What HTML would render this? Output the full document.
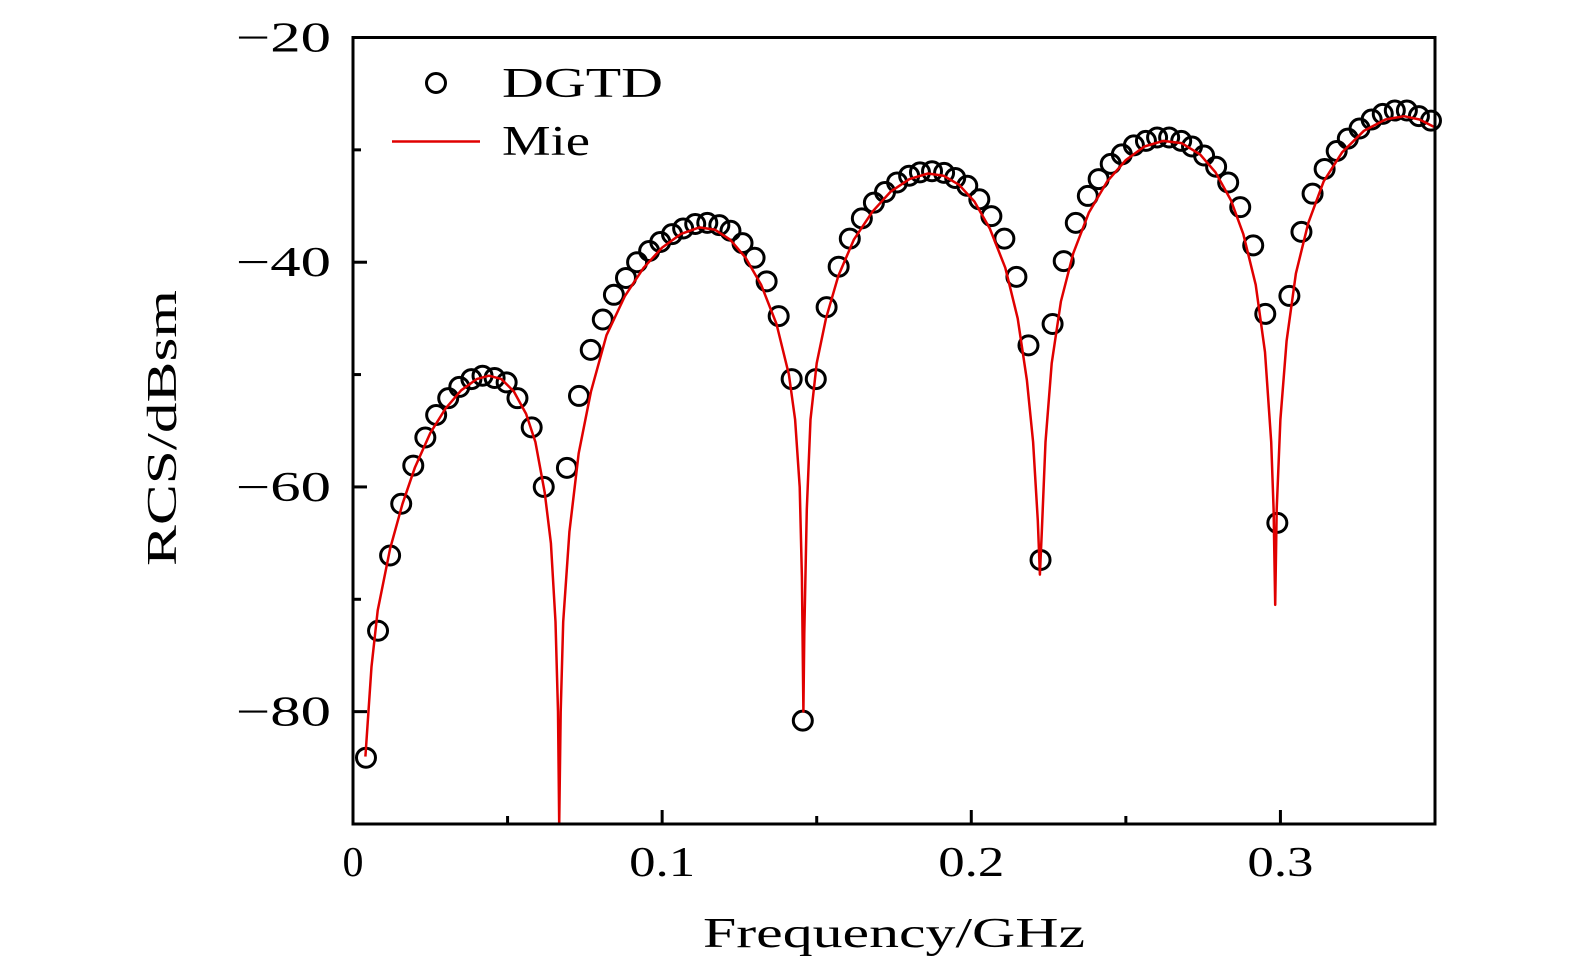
<!DOCTYPE html>
<html><head><meta charset="utf-8"><style>
html,body{margin:0;padding:0;background:#fff;overflow:hidden;}
svg text{font-family:"Liberation Serif",serif;fill:#000;}
</style></head><body>
<svg id="chart" width="1575" height="974" xmlns="http://www.w3.org/2000/svg">
<g id="axes"></g>
<g id="series"></g>
<rect x="353" y="37.5" width="1082" height="786.5" fill="none" stroke="#000" stroke-width="3"/>
<g>
<circle cx="436" cy="83" r="9.5" fill="none" stroke="#000" stroke-width="3"/>
<text x="502" y="97" font-size="42" textLength="161" lengthAdjust="spacingAndGlyphs">DGTD</text>
<line x1="392" y1="141.5" x2="480" y2="141.5" stroke="#e00000" stroke-width="2.5"/>
<text x="502" y="155" font-size="42" textLength="88" lengthAdjust="spacingAndGlyphs">Mie</text>
</g>
<text x="703" y="947" font-size="42" textLength="382" lengthAdjust="spacingAndGlyphs">Frequency/GHz</text>
<text transform="translate(176,566) rotate(-90)" font-size="42" textLength="276" lengthAdjust="spacingAndGlyphs">RCS/dBsm</text>
</svg>
<script>
const xTicks=[0,0.1,0.2,0.3];
const xTickLabels=["0","0.1","0.2","0.3"];
const xMinor=[0.05,0.15,0.25];
const yTicks=[-20,-40,-60,-80];
const yTickLabels=["\u221220","\u221240","\u221260","\u221280"];
const yMinor=[-30,-50,-70,-90];
const dgtdFreq=[.0042,.0081,.0120,.0156,.0195,.0234,.0269,.0308,.0344,.0383,.0419,.0458,.0497,.0532,.0578,.0617,.0692,.0731,.0769,.0808,.0844,.0883,.0919,.0958,.0994,.1032,.1068,.1107,.1146,.1185,.1221,.1260,.1299,.1338,.1377,.1419,.1455,.1497,.1532,.1571,.1607,.1646,.1685,.1721,.1760,.1799,.1834,.1873,.1912,.1948,.1987,.2026,.2065,.2107,.2146,.2185,.2224,.2263,.2299,.2338,.2377,.2412,.2451,.2487,.2526,.2565,.2601,.2640,.2679,.2714,.2753,.2792,.2831,.2870,.2912,.2951,.2990,.3029,.3068,.3104,.3143,.3182,.3218,.3256,.3295,.3331,.3370,.3409,.3448,.3487];
const dgtdRcs=[-84.1,-72.8,-66.1,-61.5,-58.1,-55.6,-53.6,-52.1,-51.1,-50.4,-50.1,-50.3,-50.7,-52.1,-54.7,-60.0,-58.3,-51.9,-47.8,-45.1,-42.9,-41.4,-40.0,-39.0,-38.2,-37.5,-37.0,-36.6,-36.5,-36.7,-37.2,-38.3,-39.6,-41.7,-44.8,-50.4,-80.8,-50.4,-44.0,-40.4,-37.9,-36.1,-34.7,-33.75,-32.9,-32.3,-32.0,-31.9,-32.05,-32.5,-33.2,-34.4,-35.9,-37.9,-41.3,-47.4,-66.5,-45.5,-39.9,-36.5,-34.1,-32.6,-31.25,-30.4,-29.6,-29.2,-28.9,-28.9,-29.2,-29.7,-30.5,-31.5,-32.9,-35.1,-38.5,-44.6,-63.2,-43.0,-37.3,-33.9,-31.7,-30.1,-29.0,-28.1,-27.3,-26.8,-26.5,-26.5,-27.0,-27.4];
const mieFreq=[0.004,0.006,0.008,0.012,0.016,0.02,0.025,0.03,0.035,0.04,0.044,0.048,0.052,0.056,0.059,0.062,0.064,0.0655,0.0663,0.0667,0.0672,0.068,0.070,0.073,0.077,0.082,0.088,0.094,0.100,0.106,0.112,0.117,0.122,0.127,0.132,0.137,0.141,0.143,0.1445,0.1452,0.1457,0.146,0.1468,0.148,0.150,0.153,0.157,0.162,0.168,0.174,0.180,0.186,0.191,0.196,0.201,0.206,0.211,0.215,0.218,0.220,0.2215,0.2222,0.2228,0.224,0.226,0.229,0.233,0.238,0.244,0.25,0.256,0.262,0.268,0.274,0.279,0.284,0.288,0.292,0.295,0.297,0.2978,0.2983,0.2988,0.300,0.302,0.305,0.309,0.314,0.32,0.327,0.334,0.340,0.345,0.35];
const mieRcs=[-84,-76,-71,-65.5,-61.5,-58.3,-55.2,-53,-51.4,-50.4,-50.1,-50.4,-51.5,-53.5,-56,-60.5,-65,-72,-80,-91,-80,-72,-64,-57,-51.5,-46.5,-43,-40.5,-38.7,-37.5,-36.9,-37.1,-38,-39.6,-42,-45.5,-50,-54,-60,-68,-80,-73,-62,-54,-49,-45,-41.2,-38,-35.5,-33.7,-32.6,-32.1,-32.3,-33.1,-34.6,-37,-40.5,-45,-50.5,-56,-63,-67.8,-64,-56,-49,-43.5,-39.2,-35.6,-32.8,-30.9,-29.7,-29.2,-29.4,-30.4,-32,-34.5,-37.5,-42,-48,-56,-62,-70.5,-62,-54,-47,-41,-36.5,-32.8,-30.2,-28.3,-27.3,-27.0,-27.3,-28.0];

const X0=353,X1=1435,Y0=37.5,Y1=824;
function xs(f){return X0+(f-0)/(0.35)*(X1-X0);}
function ys(v){return Y0+(-20-v)/70*(Y1-Y0);}
const NS="http://www.w3.org/2000/svg";
const axes=document.getElementById('axes');
const series=document.getElementById('series');
function mk(tag,attrs,parent){const e=document.createElementNS(NS,tag);for(const k in attrs)e.setAttribute(k,attrs[k]);parent.appendChild(e);return e;}
xTicks.forEach((t,i)=>{
  const l=mk('line',{x1:xs(t),x2:xs(t),y1:Y1,y2:Y1-14,stroke:'#000','stroke-width':3},axes);
  
  
  const lab=xTickLabels[i];
  const tx=mk('text',{x:xs(t),y:876,'font-size':42,'text-anchor':'middle'},axes);
  if(lab.length>1){tx.setAttribute('textLength',66);tx.setAttribute('lengthAdjust','spacingAndGlyphs');}
  tx.textContent=lab;
  
  
});
xMinor.forEach(t=>{
  const l=mk('line',{x1:xs(t),x2:xs(t),y1:Y1,y2:Y1-8,stroke:'#000','stroke-width':3},axes);
  
  
});
yTicks.forEach((t,i)=>{
  const l=mk('line',{x1:X0,x2:X0+14,y1:ys(t),y2:ys(t),stroke:'#000','stroke-width':3},axes);
  
  
  const tx=mk('text',{x:236,y:ys(t)+14,'font-size':42,textLength:95,lengthAdjust:'spacingAndGlyphs'},axes);
  tx.textContent=yTickLabels[i];
  
  
});
yMinor.forEach(t=>{
  const l=mk('line',{x1:X0,x2:X0+8,y1:ys(t),y2:ys(t),stroke:'#000','stroke-width':3},axes);
  
  
});
dgtdFreq.forEach((f,i)=>{
  const c=mk('circle',{cx:xs(f),cy:ys(dgtdRcs[i]),r:9.5,fill:'none',stroke:'#000','stroke-width':3},series);
  
  
});
const pts=mieFreq.map((f,i)=>xs(f).toFixed(1)+','+Math.min(ys(mieRcs[i]),Y1).toFixed(1)).join(' ');
const pl=mk('polyline',{points:pts,fill:'none',stroke:'#e00000','stroke-width':2.5,'stroke-linejoin':'round'},series);


</script>
</body></html>
